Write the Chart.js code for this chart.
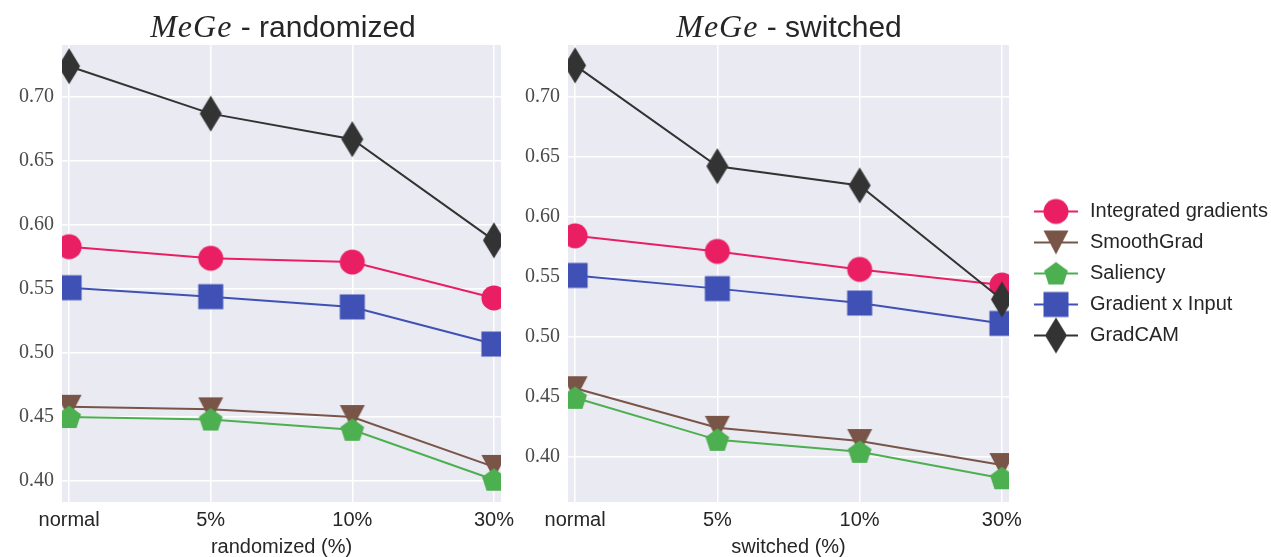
<!DOCTYPE html>
<html>
<head>
<meta charset="utf-8">
<script src="https://cdn.jsdelivr.net/npm/chart.js@4/dist/chart.umd.min.js"></script>
<style>
  body { margin: 0; background: #fff; width: 1271px; height: 557px; position: relative; overflow: hidden; }
  .box { position: absolute; top: 0; height: 557px; }
  .title { position: absolute; top: 8px; line-height: 34px; font: 30px "Liberation Sans", Arial, sans-serif; color: #262626; white-space: nowrap; transform: translateX(-50%); }
  .title i { font-family: "Liberation Serif", serif; font-size: 32px; letter-spacing: 1px; }
</style>
</head>
<body>
<div class="box" style="left:0;width:515px"><canvas id="left"></canvas></div>
<div class="box" style="left:515px;width:756px"><canvas id="right"></canvas></div>
<div class="title" style="left:283px"><i>MeGe</i> - randomized</div>
<div class="title" style="left:789px"><i>MeGe</i> - switched</div>
<script>
const categories = ["normal", "5%", "10%", "30%"];
const methods = ["Integrated gradients", "SmoothGrad", "Saliency", "Gradient x Input", "GradCAM"];
const colors = ["#E91E63", "#795548", "#4CAF50", "#3F51B5", "#333333"];
const markers = ["circle", "triangleDown", "pentagon", "square", "diamond"];

// randomized
const randIG = [0.583, 0.574, 0.571, 0.543];
const randSmooth = [0.458, 0.456, 0.45, 0.411];
const randSaliency = [0.45, 0.448, 0.44, 0.401];
const randGxI = [0.551, 0.544, 0.536, 0.507];
const randGradCAM = [0.724, 0.687, 0.667, 0.588];

// switched
const swIG = [0.584, 0.571, 0.556, 0.543];
const swSmooth = [0.457, 0.424, 0.413, 0.393];
const swSaliency = [0.449, 0.414, 0.404, 0.382];
const swGxI = [0.551, 0.54, 0.528, 0.511];
const swGradCAM = [0.726, 0.642, 0.626, 0.531];

const yTicks = [0.4, 0.45, 0.5, 0.55, 0.6, 0.65, 0.7];

const sansFont = "'Liberation Sans', Arial, sans-serif";
const serifFont = "'Liberation Serif', serif";

function DrawMarker(ctx, kind, cx, cy, color) {
  ctx.fillStyle = color;
  ctx.beginPath();
  if (kind === "circle") {
    ctx.arc(cx, cy, 12.5, 0, Math.PI * 2);
  } else if (kind === "square") {
    ctx.rect(cx - 12.5, cy - 12.5, 25, 25);
  } else if (kind === "triangleDown") {
    ctx.moveTo(cx - 12.5, cy - 12);
    ctx.lineTo(cx + 12.5, cy - 12);
    ctx.lineTo(cx, cy + 12);
  } else if (kind === "pentagon") {
    for (let k = 0; k < 5; k++) {
      const a = -Math.PI / 2 + (k * 2 * Math.PI) / 5;
      const px = cx + 12.5 * Math.cos(a);
      const py = cy + 1 + 12.5 * Math.sin(a);
      if (k === 0) ctx.moveTo(px, py);
      else ctx.lineTo(px, py);
    }
  } else if (kind === "diamond") {
    ctx.moveTo(cx, cy - 18);
    ctx.lineTo(cx + 11, cy);
    ctx.lineTo(cx, cy + 18);
    ctx.lineTo(cx - 11, cy);
  }
  ctx.closePath();
  ctx.fill();
}

function MakePointImage(i) {
  const c = document.createElement("canvas");
  c.width = 40;
  c.height = 40;
  DrawMarker(c.getContext("2d"), markers[i], 20, 20, colors[i]);
  return c;
}

function MakeLegendImage(i) {
  const c = document.createElement("canvas");
  c.width = 60;
  c.height = 40;
  const ctx = c.getContext("2d");
  ctx.strokeStyle = colors[i];
  ctx.lineWidth = 2;
  ctx.beginPath();
  ctx.moveTo(14, 20);
  ctx.lineTo(58, 20);
  ctx.stroke();
  DrawMarker(ctx, markers[i], 36, 20, colors[i]);
  return c;
}

const pointImages = methods.map((m, i) => MakePointImage(i));
const legendImages = methods.map((m, i) => MakeLegendImage(i));

// 회색 배경
const plotBackground = {
  id: "plotBackground",
  beforeDraw(chart) {
    const { ctx, chartArea } = chart;
    ctx.save();
    ctx.fillStyle = "#EAEAF2";
    ctx.fillRect(chartArea.left, chartArea.top, chartArea.width, chartArea.height);
    ctx.restore();
  },
};

function MakeChart(id, series, yMin, yMax, axisTitle, yWidth, padRight, withLegend) {
  const datasets = series.map((values, i) => ({
    label: methods[i],
    data: values.map((v, j) => ({ x: j, y: v })),
    borderColor: colors[i],
    backgroundColor: colors[i],
    borderWidth: 2,
    pointStyle: pointImages[i],
    pointRadius: 12,
    order: methods.length - 1 - i,
    clip: 0,
    tension: 0,
    fill: false,
  }));

  return new Chart(document.getElementById(id), {
    type: "line",
    data: { datasets },
    plugins: [plotBackground],
    options: {
      responsive: true,
      maintainAspectRatio: false,
      animation: false,
      events: [],
      layout: { padding: { top: 45, right: padRight, bottom: 0, left: 0 } },
      scales: {
        x: {
          type: "linear",
          min: -0.05,
          max: 3.05,
          afterBuildTicks: (s) => {
            s.ticks = categories.map((c, i) => ({ value: i }));
          },
          afterFit: (s) => {
            s.height = 55;
            s.paddingLeft = 0;
            s.paddingRight = 0;
          },
          ticks: {
            callback: (v) => categories[v],
            font: { family: sansFont, size: 20 },
            color: "#262626",
            padding: 6,
            maxRotation: 0,
            autoSkip: false,
          },
          grid: { color: "#ffffff", lineWidth: 1.5, drawTicks: false },
          border: { display: false },
          title: {
            display: true,
            text: axisTitle,
            font: { family: sansFont, size: 20, lineHeight: 1 },
            color: "#262626",
            padding: 0,
          },
        },
        y: {
          min: yMin,
          max: yMax,
          afterBuildTicks: (s) => {
            s.ticks = yTicks.map((v) => ({ value: v }));
          },
          afterFit: (s) => {
            s.width = yWidth;
          },
          ticks: {
            callback: (v) => v.toFixed(2),
            font: { family: serifFont, size: 20 },
            color: "#4a4a4a",
            padding: 8,
          },
          grid: { color: "#ffffff", lineWidth: 1.5, drawTicks: false },
          border: { display: false },
        },
      },
      plugins: {
        tooltip: { enabled: false },
        legend: {
          display: withLegend,
          position: "right",
          fullSize: false,
          maxWidth: 262,
          labels: {
            usePointStyle: true,
            pointStyleWidth: 60,
            padding: 11,
            color: "#262626",
            font: { family: sansFont, size: 20 },
            generateLabels: (chart) =>
              chart.data.datasets.map((ds, i) => ({
                text: ds.label,
                pointStyle: legendImages[i],
                rotation: 0,
                fontColor: "#262626",
                hidden: false,
                datasetIndex: i,
                lineWidth: 0,
                strokeStyle: "transparent",
                fillStyle: "transparent",
              })),
          },
        },
      },
    },
  });
}

MakeChart("left", [randIG, randSmooth, randSaliency, randGxI, randGradCAM], 0.3836, 0.7406, "randomized (%)", 62, 10, false);
MakeChart("right", [swIG, swSmooth, swSaliency, swGxI, swGradCAM], 0.3622, 0.743, "switched (%)", 53, 0, true);
</script>
</body>
</html>
